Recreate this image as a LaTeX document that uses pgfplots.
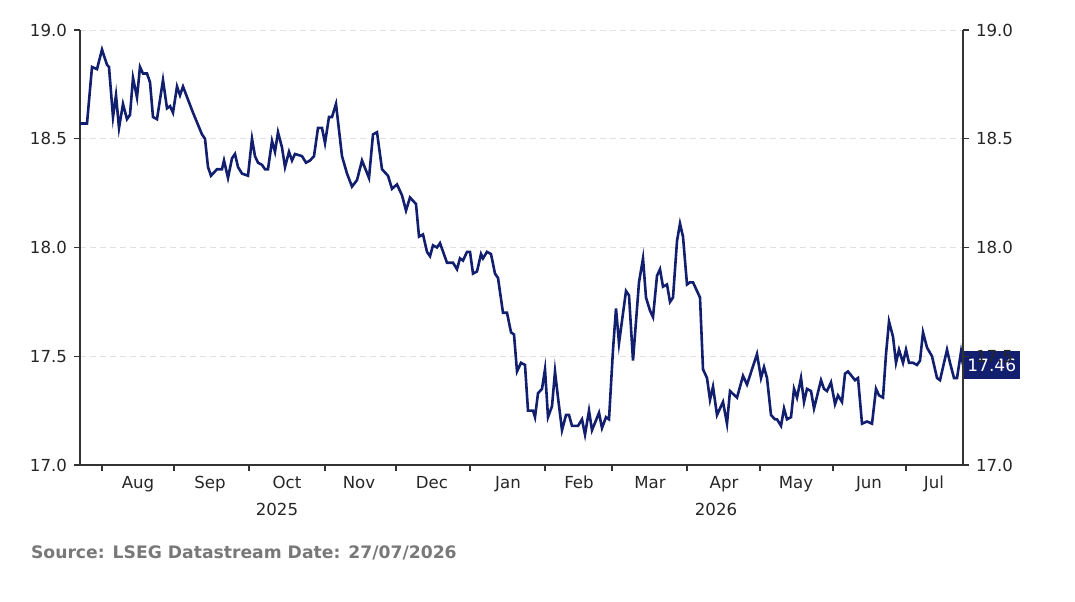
\documentclass[border=0pt]{standalone}
\usepackage{pgfplots}
\pgfplotsset{compat=1.18}
\usepackage{fontspec}
\setmainfont{DejaVu Sans}
\definecolor{navy}{RGB}{18,30,110}
\definecolor{src}{RGB}{120,120,120}
\pgfplotstableread{
x y
80 18.57
87 18.57
92 18.83
97 18.82
102 18.91
107 18.84
109 18.83
113 18.60
116 18.70
119 18.55
123 18.66
127 18.59
130 18.61
133 18.78
137 18.69
140 18.83
143 18.80
147 18.80
150 18.76
153 18.60
157 18.59
163 18.77
167 18.64
170 18.65
173 18.62
177 18.74
180 18.70
183 18.74
188 18.68
193 18.62
202 18.52
205 18.50
208 18.37
211 18.33
217 18.36
222 18.36
224 18.40
228 18.32
232 18.41
235 18.43
238 18.37
242 18.34
248 18.33
252 18.50
255 18.42
258 18.39
262 18.38
265 18.36
268 18.36
272 18.49
275 18.44
278 18.53
282 18.46
285 18.37
289 18.44
292 18.40
295 18.43
302 18.42
306 18.39
310 18.40
314 18.42
318 18.55
322 18.55
325 18.48
329 18.60
332 18.60
336 18.66
342 18.42
347 18.34
352 18.28
357 18.31
362 18.40
369 18.32
373 18.52
377 18.53
382 18.36
388 18.33
392 18.27
397 18.29
402 18.24
406 18.17
410 18.23
416 18.20
419 18.05
423 18.06
427 17.98
430 17.96
433 18.01
437 18.00
440 18.02
447 17.93
453 17.93
457 17.90
460 17.95
463 17.94
467 17.98
470 17.98
473 17.88
477 17.89
481 17.97
483 17.95
487 17.98
491 17.97
495 17.88
498 17.86
503 17.70
507 17.70
511 17.61
514 17.60
517 17.43
521 17.47
525 17.46
528 17.25
533 17.25
535 17.22
538 17.33
542 17.35
545 17.44
548 17.22
552 17.27
555 17.43
558 17.31
562 17.16
566 17.23
569 17.23
572 17.18
578 17.18
582 17.21
585 17.14
589 17.25
592 17.16
599 17.24
602 17.17
606 17.22
609 17.21
613 17.53
616 17.72
619 17.56
626 17.80
629 17.78
633 17.48
639 17.84
643 17.95
646 17.77
650 17.71
653 17.68
657 17.87
660 17.90
663 17.82
667 17.83
670 17.75
673 17.77
677 18.03
680 18.11
683 18.05
687 17.83
690 17.84
693 17.84
700 17.77
703 17.44
707 17.40
710 17.30
713 17.36
717 17.23
723 17.29
727 17.19
730 17.34
737 17.31
743 17.41
747 17.37
757 17.51
761 17.40
764 17.45
767 17.40
771 17.23
775 17.21
777 17.21
781 17.18
784 17.26
787 17.21
791 17.22
794 17.35
797 17.31
801 17.40
804 17.29
807 17.35
811 17.34
814 17.26
821 17.39
824 17.35
827 17.34
831 17.38
835 17.28
838 17.32
842 17.29
845 17.42
848 17.43
855 17.39
858 17.40
862 17.19
867 17.20
872 17.19
876 17.35
879 17.32
883 17.31
886 17.51
889 17.66
893 17.59
896 17.47
899 17.53
903 17.47
906 17.53
909 17.47
913 17.47
917 17.46
920 17.48
923 17.61
927 17.54
932 17.50
937 17.40
940 17.39
947 17.53
950 17.47
954 17.40
957 17.40
961 17.52
963 17.46
}\data
\begin{document}
\begin{tikzpicture}
\useasboundingbox (-40pt,-68pt) rectangle (497.5pt,232.5pt);
\pgfplotsset{common/.style={
  scale only axis, width=441.5pt, height=217.5pt,
  xmin=80, xmax=963, ymin=17, ymax=19,
  ytick={17,17.5,18,18.5,19},
  yticklabel style={/pgf/number format/.cd,fixed,fixed zerofill,precision=1},
  /pgf/number format/assume math mode=true,
  tick label style={font=\fontsize{8.3}{9}\selectfont, text=black!85},
  tick style={black!80, line width=0.6pt},
  major tick length=3pt,
  axis line style={black!80, line width=0.6pt},
  tick align=outside,
}}
\begin{axis}[common,
  axis x line*=bottom, axis y line*=left,
  xtick={102,174,249,325,396,470,545,612,687,760,833,906},
  xticklabels={},
  extra x ticks={138,210,287,359,432,508,579,650,724,796,869,934},
  extra x tick labels={Aug,Sep,Oct,Nov,Dec,Jan,Feb,Mar,Apr,May,Jun,Jul},
  extra x tick style={major tick length=0pt, grid=none, tick label style={yshift=-2pt}},
  ymajorgrids, grid style={densely dashed, black!12, line width=0.4pt},
  clip=false]
\addplot[navy, line width=1.3pt] table {\data};
\node[font=\fontsize{8.3}{9}\selectfont, text=black!85] at (axis cs:277,17) [yshift=-22pt] {2025};
\node[font=\fontsize{8.3}{9}\selectfont, text=black!85] at (axis cs:716,17) [yshift=-22pt] {2026};
\node[fill=navy, text=white, anchor=west, font=\fontsize{8.5}{9}\selectfont, inner sep=2pt, minimum height=14pt] at (axis cs:963,17.46) {17.46};
\end{axis}
\begin{axis}[common, axis x line=none, axis y line*=right]
\end{axis}
\node[anchor=west, font=\bfseries\fontsize{8.6}{9}\selectfont, text=src] at (-28pt,-44pt) {Source: LSEG Datastream Date: 27/07/2026};
\end{tikzpicture}
\end{document}
